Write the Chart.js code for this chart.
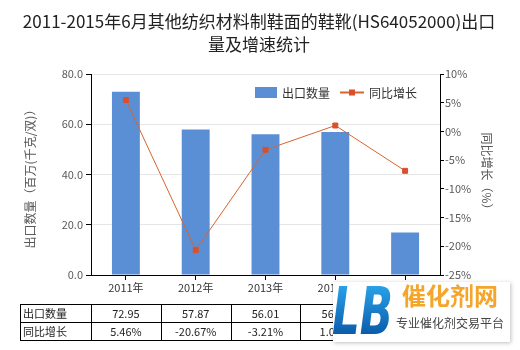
<!DOCTYPE html>
<html>
<head>
<meta charset="utf-8">
<script src="https://cdn.jsdelivr.net/npm/chart.js@4.4.1/dist/chart.umd.min.js"></script>
<style>
  body { margin: 0; background: #fff; }
  #wrap { width: 520px; height: 350px; }
</style>
</head>
<body>
<div id="wrap"><canvas id="myChart" width="520" height="350"></canvas></div>
<script>
// 年份、出口数量（百万千克/双）、同比增长（%）
var years = ['2011年', '2012年', '2013年', '2014年', '2015年'];
var exportQty = [72.95, 57.87, 56.01, 56.90, 16.90];
var yoyGrowth = [5.46, -20.67, -3.21, 1.03, -6.86];

var titleLines = ['2011-2015年6月其他纺织材料制鞋面的鞋靴(HS64052000)出口', '量及增速统计'];
var rowNames = ['出口数量', '同比增长'];

var FONT = '"Noto Sans CJK SC", "Microsoft YaHei", sans-serif';
var barColor = '#5b8fd5';
var lineColor = '#d6652f';

// 标题、轴标题、图例、底部数据表、角标
var decorations = {
  id: 'decorations',
  afterDraw: function(chart) {
    var ctx = chart.ctx;
    var xs = chart.scales.x;
    ctx.save();

    // 标题
    ctx.fillStyle = '#222';
    ctx.font = '17px ' + FONT;
    ctx.textAlign = 'center';
    ctx.textBaseline = 'middle';
    ctx.fillText(titleLines[0], 259, 22);
    ctx.fillText(titleLines[1], 259, 45);

    // 轴标题
    ctx.fillStyle = '#595959';
    ctx.font = '12px ' + FONT;
    ctx.save();
    ctx.translate(30, 176);
    ctx.rotate(-Math.PI / 2);
    ctx.fillText('出口数量（百万(千克/双)）', 0, 0);
    ctx.restore();
    ctx.save();
    ctx.translate(487, 174);
    ctx.rotate(Math.PI / 2);
    ctx.fillText('同比增长（%）', 0, 0);
    ctx.restore();

    // 图例
    ctx.font = '12px ' + FONT;
    ctx.textAlign = 'left';
    ctx.fillStyle = barColor;
    ctx.fillRect(255, 87, 22, 11);
    ctx.fillStyle = '#333';
    ctx.fillText('出口数量', 282, 93);
    ctx.strokeStyle = lineColor;
    ctx.lineWidth = 2;
    ctx.beginPath();
    ctx.moveTo(340, 92.5);
    ctx.lineTo(364, 92.5);
    ctx.stroke();
    ctx.fillStyle = '#d9502b';
    ctx.fillRect(349, 89.5, 6, 6);
    ctx.fillStyle = '#333';
    ctx.fillText('同比增长', 369, 93);

    // 数据表
    var top = 304, rowH = 18, left = 20;
    var half = (xs.getPixelForValue(1) - xs.getPixelForValue(0)) / 2;
    var right = xs.getPixelForValue(years.length - 1) + half;
    ctx.strokeStyle = '#000';
    ctx.lineWidth = 1;
    ctx.beginPath();
    for (var r = 0; r <= 2; r++) {
      ctx.moveTo(left, top + r * rowH + 0.5);
      ctx.lineTo(right, top + r * rowH + 0.5);
    }
    ctx.moveTo(left + 0.5, top);
    ctx.lineTo(left + 0.5, top + 2 * rowH);
    for (var i = 0; i <= years.length; i++) {
      var cx = Math.round(xs.getPixelForValue(i) - half) + 0.5;
      ctx.moveTo(cx, top);
      ctx.lineTo(cx, top + 2 * rowH);
    }
    ctx.stroke();

    ctx.font = '11px ' + FONT;
    ctx.fillStyle = '#222';
    ctx.textAlign = 'left';
    ctx.fillText(rowNames[0], left + 3, top + rowH / 2 + 1);
    ctx.fillText(rowNames[1], left + 3, top + rowH * 1.5 + 1);
    ctx.textAlign = 'center';
    for (var j = 0; j < years.length; j++) {
      var px = xs.getPixelForValue(j);
      ctx.fillText(exportQty[j].toFixed(2), px, top + rowH / 2 + 1);
      ctx.fillText(yoyGrowth[j].toFixed(2) + '%', px, top + rowH * 1.5 + 1);
    }

    // 角标
    ctx.save();
    ctx.shadowColor = 'rgba(0,0,0,0.25)';
    ctx.shadowBlur = 4;
    ctx.shadowOffsetX = 1;
    ctx.shadowOffsetY = 1;
    ctx.fillStyle = '#fff';
    ctx.fillRect(333, 282, 177, 60);
    ctx.restore();

    ctx.save();
    ctx.translate(332, 334);
    ctx.scale(0.66, 1);
    var g = ctx.createLinearGradient(0, -50, 0, 0);
    g.addColorStop(0, '#2aa4ea');
    g.addColorStop(1, '#0b5cab');
    ctx.fillStyle = g;
    ctx.font = 'italic bold 66px "DejaVu Sans", sans-serif';
    ctx.textAlign = 'left';
    ctx.textBaseline = 'alphabetic';
    ctx.fillText('LB', 0, 0);
    ctx.restore();

    ctx.textAlign = 'left';
    ctx.textBaseline = 'middle';
    ctx.fillStyle = '#f4a52a';
    ctx.font = 'bold 24px ' + FONT;
    ctx.fillText('催化剂网', 402, 296);
    ctx.fillStyle = '#444';
    ctx.font = '12px ' + FONT;
    ctx.fillText('专业催化剂交易平台', 396, 323);

    ctx.restore();
  }
};

var ctx = document.getElementById('myChart').getContext('2d');

var myChart = new Chart(ctx, {
  type: 'bar',
  data: {
    labels: years,
    datasets: [{
      type: 'line',
      label: '同比增长',
      data: yoyGrowth,
      yAxisID: 'y1',
      borderColor: lineColor,
      borderWidth: 1,
      pointStyle: 'rect',
      pointRadius: 3.5,
      pointBackgroundColor: '#d9502b',
      pointBorderColor: '#d9502b',
      tension: 0,
      order: 1
    }, {
      label: '出口数量',
      data: exportQty,
      yAxisID: 'y',
      backgroundColor: barColor,
      barPercentage: 0.4,
      categoryPercentage: 1.0,
      order: 2
    }]
  },
  options: {
    responsive: false,
    animation: false,
    layout: { padding: { top: 74, bottom: 55, left: 0, right: 0 } },
    plugins: {
      legend: { display: false },
      title: { display: false },
      tooltip: { enabled: false }
    },
    scales: {
      x: {
        grid: { offset: false, drawOnChartArea: false, tickLength: 5, tickColor: '#000' },
        border: { color: '#000' },
        ticks: { color: '#333', font: { size: 11, family: FONT }, padding: 1, maxRotation: 0 },
        afterFit: function(s) { s.height = 20; }
      },
      y: {
        position: 'left',
        min: 0,
        max: 80,
        ticks: {
          stepSize: 20,
          color: '#595959',
          font: { size: 11, family: FONT },
          padding: 3,
          callback: function(v) { return v.toFixed(1); }
        },
        grid: { color: '#e6e6e6', tickColor: '#000', tickLength: 5 },
        border: { color: '#000' },
        afterFit: function(s) { s.width = 91; }
      },
      y1: {
        position: 'right',
        min: -25,
        max: 10,
        ticks: {
          stepSize: 5,
          color: '#595959',
          font: { size: 11, family: FONT },
          padding: 1,
          callback: function(v) { return v + '%'; }
        },
        grid: { drawOnChartArea: false, tickColor: '#000', tickLength: 4 },
        border: { color: '#000' },
        afterFit: function(s) { s.width = 80; }
      }
    }
  },
  plugins: [decorations]
});
</script>
</body>
</html>
